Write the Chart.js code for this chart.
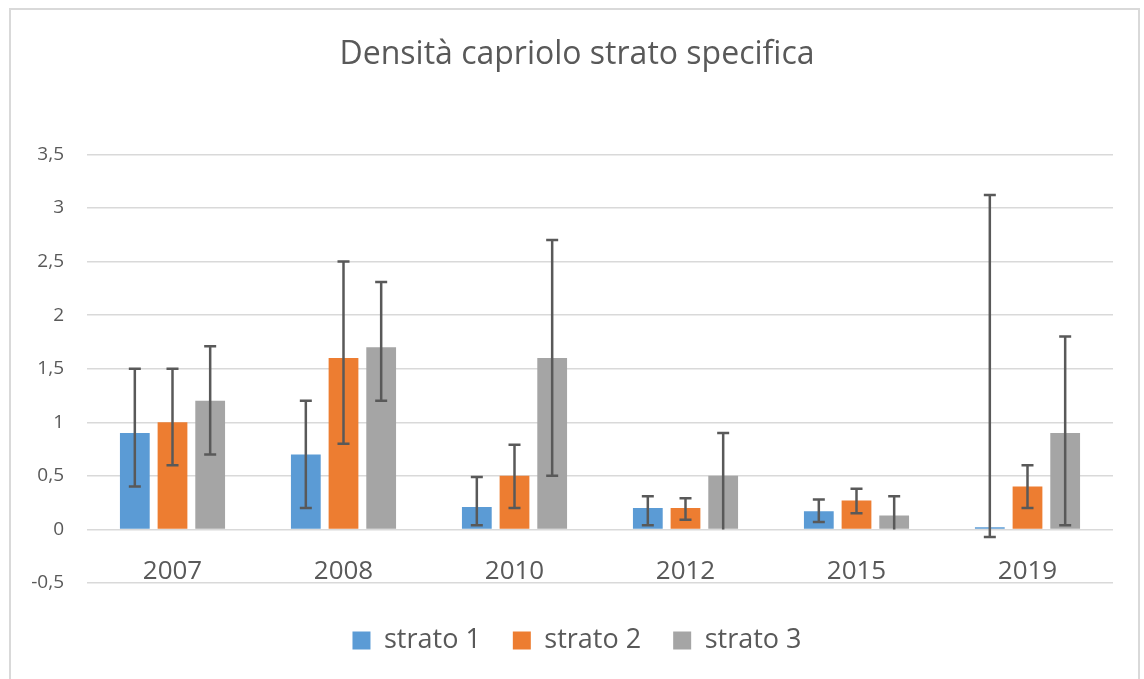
<!DOCTYPE html>
<html>
<head>
<meta charset="utf-8">
<script src="https://cdn.jsdelivr.net/npm/chart.js@4/dist/chart.umd.min.js"></script>
<style>
  html, body { margin: 0; padding: 0; background: #ffffff; }
  #frame { position: absolute; left: 9px; top: 8px; width: 1131px; height: 700px;
           border: 2px solid #d9d9d9; border-bottom: none; box-sizing: border-box; }
  #wrap { position: absolute; left: 0; top: 0; width: 1144px; height: 679px; }
</style>
</head>
<body>
<div id="frame"></div>
<div id="wrap"><canvas id="c" width="1144" height="679"></canvas></div>
<script>
const titleText = "Densità capriolo strato specifica";
const categories = ["2007", "2008", "2010", "2012", "2015", "2019"];
const seriesNames = ["strato 1", "strato 2", "strato 3"];

const strato1 = [0.90, 0.70, 0.21, 0.20, 0.17, 0.02];
const strato2 = [1.00, 1.60, 0.50, 0.20, 0.27, 0.40];
const strato3 = [1.20, 1.70, 1.60, 0.50, 0.13, 0.90];

const strato1Low  = [0.40, 0.20, 0.04, 0.04, 0.07, -0.07];
const strato1High = [1.50, 1.20, 0.49, 0.31, 0.28, 3.12];
const strato2Low  = [0.60, 0.80, 0.20, 0.09, 0.15, 0.20];
const strato2High = [1.50, 2.50, 0.79, 0.29, 0.38, 0.60];
const strato3Low  = [0.70, 1.20, 0.50, 0.00, 0.00, 0.04];
const strato3High = [1.71, 2.31, 2.70, 0.90, 0.31, 1.80];

const yTicks = [-0.5, 0, 0.5, 1, 1.5, 2, 2.5, 3, 3.5];

const colors = ["#5B9BD5", "#ED7D31", "#A5A5A5"];
const lows = [strato1Low, strato2Low, strato3Low];
const highs = [strato1High, strato2High, strato3High];
const TEXT = "#595959";
const FONT = "'Open Sans', 'Liberation Sans', sans-serif";

const errorBars = {
  id: "errorBars",
  afterDatasetsDraw(chart) {
    const ctx = chart.ctx;
    const y = chart.scales.y;
    ctx.save();
    ctx.strokeStyle = "#595959";
    ctx.lineWidth = 2.5;
    chart.data.datasets.forEach((ds, d) => {
      const meta = chart.getDatasetMeta(d);
      meta.data.forEach((bar, i) => {
        const x = bar.x;
        const yl = y.getPixelForValue(lows[d][i]);
        const yh = y.getPixelForValue(highs[d][i]);
        ctx.beginPath();
        ctx.moveTo(x, yl); ctx.lineTo(x, yh);
        ctx.moveTo(x - 6, yh); ctx.lineTo(x + 6, yh);
        if (lows[d][i] !== 0) { ctx.moveTo(x - 6, yl); ctx.lineTo(x + 6, yl); }
        ctx.stroke();
      });
    });
    ctx.restore();
  }
};

const categoryLabels = {
  id: "categoryLabels",
  afterDraw(chart) {
    const ctx = chart.ctx;
    const xs = chart.scales.x, ys = chart.scales.y;
    ctx.save();
    ctx.fillStyle = TEXT;
    ctx.font = "26px " + FONT;
    ctx.textAlign = "center";
    ctx.textBaseline = "middle";
    const yPix = ys.getPixelForValue(0) + 42;
    categories.forEach((c, i) => ctx.fillText(c, xs.getPixelForValue(i), yPix));
    ctx.restore();
  }
};

new Chart(document.getElementById("c"), {
  type: "bar",
  data: {
    labels: categories,
    datasets: [
      { label: seriesNames[0], data: strato1, backgroundColor: colors[0] },
      { label: seriesNames[1], data: strato2, backgroundColor: colors[1] },
      { label: seriesNames[2], data: strato3, backgroundColor: colors[2] }
    ]
  },
  options: {
    responsive: false,
    animation: false,
    devicePixelRatio: 1,
    datasets: { bar: { categoryPercentage: 0.661, barPercentage: 0.79 } },
    layout: { padding: { top: 36, left: 10, right: 0, bottom: 15 } },
    plugins: {
      tooltip: { enabled: false },
      title: {
        display: true, text: titleText, color: TEXT,
        font: { family: FONT, size: 32, weight: "normal" },
        padding: { top: 0, bottom: 80 }
      },
      legend: {
        display: true, position: "bottom",
        labels: {
          color: TEXT, boxWidth: 18, boxHeight: 18, padding: 32,
          font: { family: FONT, size: 27 }
        }
      }
    },
    scales: {
      x: {
        grid: { display: false },
        border: { display: false },
        ticks: { display: false },
        afterFit: s => { s.height = 12; }
      },
      y: {
        min: -0.5, max: 3.5,
        afterFit: s => { s.width = 77; },
        afterBuildTicks: s => { s.ticks = yTicks.map(v => ({ value: v })); },
        grid: { color: "#d9d9d9", lineWidth: 1.5, drawTicks: false },
        border: { display: false },
        ticks: {
          padding: 23, color: TEXT,
          font: { family: FONT, size: 19 },
          callback: v => String(v).replace(".", ",")
        }
      },
      yRight: {
        type: "linear", position: "right",
        min: -0.5, max: 3.5,
        grid: { display: false },
        border: { display: false },
        ticks: { display: false },
        afterFit: s => { s.width = 31; }
      }
    }
  },
  plugins: [errorBars, categoryLabels]
});
</script>
</body>
</html>
